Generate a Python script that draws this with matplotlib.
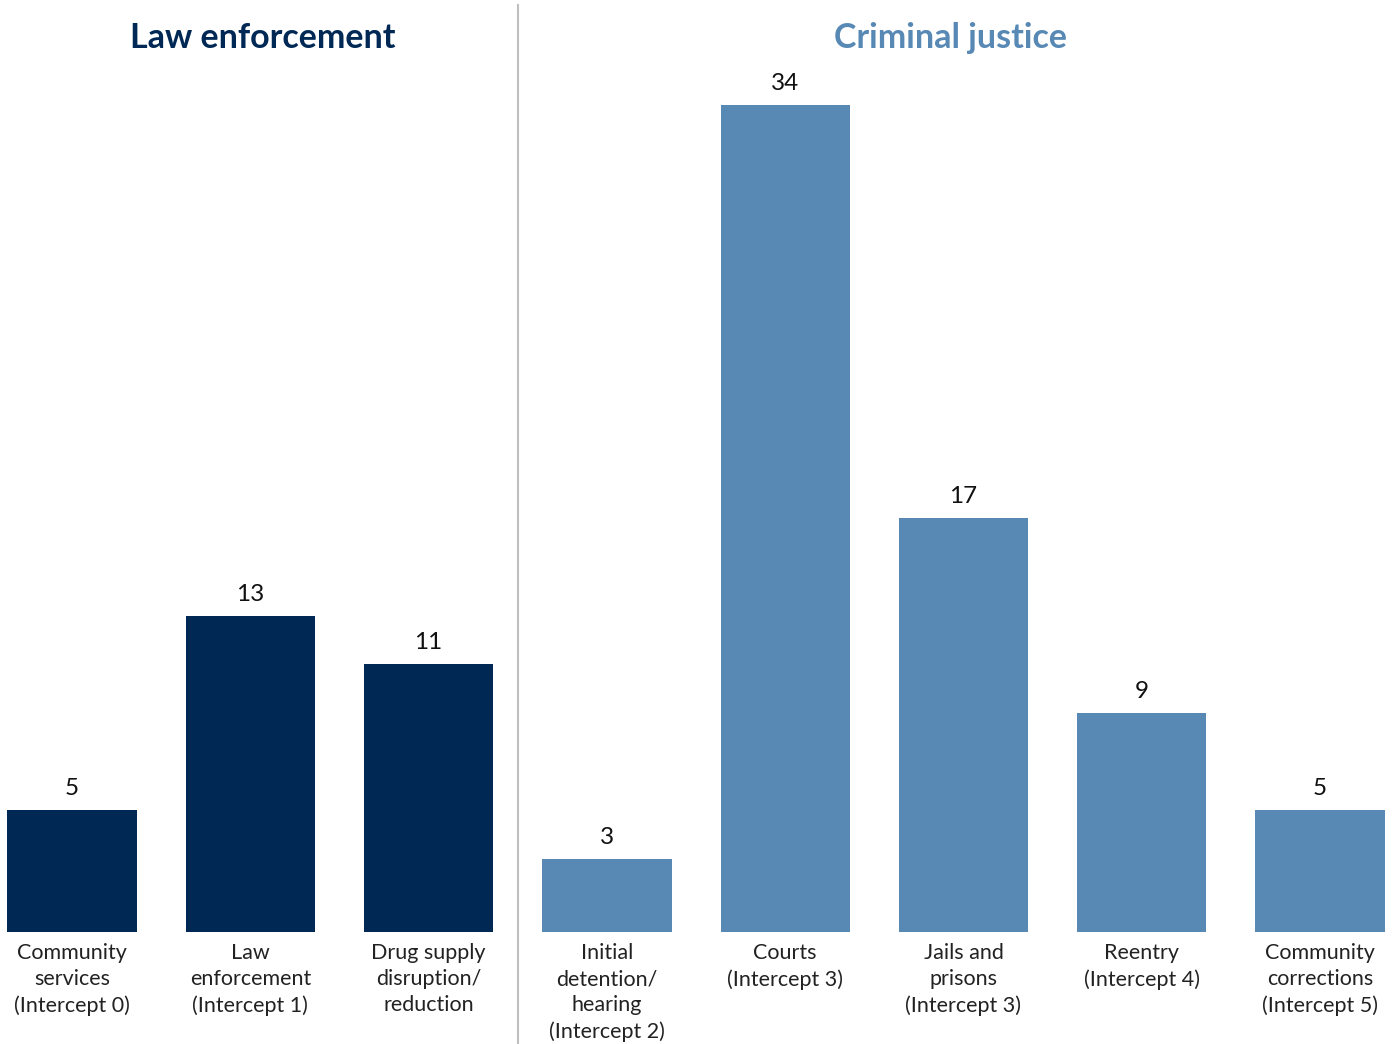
import matplotlib
matplotlib.use("Agg")
import matplotlib.pyplot as plt
import matplotlib.transforms as mtransforms
from matplotlib.lines import Line2D

categories = [
    "Community\nservices\n(Intercept 0)",
    "Law\nenforcement\n(Intercept 1)",
    "Drug supply\ndisruption/\nreduction",
    "Initial\ndetention/\nhearing\n(Intercept 2)",
    "Courts\n(Intercept 3)",
    "Jails and\nprisons\n(Intercept 3)",
    "Reentry\n(Intercept 4)",
    "Community\ncorrections\n(Intercept 5)",
]
values = [5, 13, 11, 3, 34, 17, 9, 5]
groups = ["Law enforcement"] * 3 + ["Criminal justice"] * 5
group_titles = ["Law enforcement", "Criminal justice"]

navy = "#002855"
steel = "#5889B5"
colors = [navy if g == "Law enforcement" else steel for g in groups]

plt.rcParams['font.family'] = ['Lato', 'DejaVu Sans']

fig = plt.figure(figsize=(13.96, 10.44), dpi=100)
ax = fig.add_axes([0, 0.1073, 1, 0.8927])
x = list(range(len(values)))
ax.bar(x, values, width=0.725, color=colors)
ax.set_xlim(-0.404, 7.426)
ax.set_ylim(0, 38.3)
for xi, v in zip(x, values):
    ax.text(xi, v + 0.45, str(v), ha='center', va='bottom', fontsize=17.5, color='#111111')
ax.set_xticks(x)
ax.set_xticklabels(categories, fontsize=15.5, color='#222222', linespacing=1.37)
ax.tick_params(axis='x', length=0, pad=8)
ax.set_yticks([])
for s in ax.spines.values():
    s.set_visible(False)

# group titles
tr = mtransforms.blended_transform_factory(ax.transData, fig.transFigure)
ax.text(1.07, 1 - 38 / 1044, group_titles[0], transform=tr, ha='center', va='center',
        fontsize=24.5, fontweight='bold', color=navy)
ax.text(4.93, 1 - 38 / 1044, group_titles[1], transform=tr, ha='center', va='center',
        fontsize=24.5, fontweight='bold', color=steel)

# divider
fig.add_artist(Line2D([518 / 1396, 518 / 1396], [0, 1 - 5 / 1044], color='#bfbfbf', lw=1.5,
                      transform=fig.transFigure))

fig.savefig("out.png", dpi=100)
